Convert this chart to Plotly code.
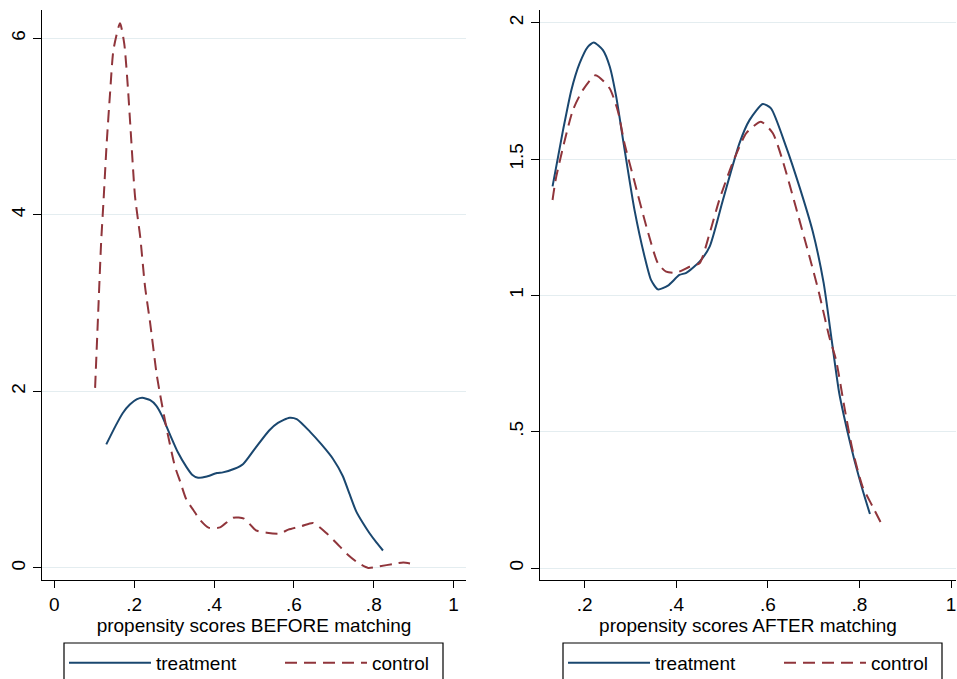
import plotly.graph_objects as go

# ---- data ----
treat_x = [0.130, 0.153, 0.171, 0.189, 0.207, 0.220, 0.240, 0.255, 0.269, 0.284, 0.298,
           0.309, 0.331, 0.345, 0.360, 0.382, 0.407, 0.422, 0.451, 0.473, 0.502, 0.538,
           0.560, 0.589, 0.607, 0.640, 0.669, 0.698, 0.722, 0.740, 0.756, 0.774, 0.789,
           0.807, 0.823]
treat_y = [1.40, 1.607, 1.753, 1.851, 1.912, 1.928, 1.900, 1.839, 1.729, 1.570, 1.423,
           1.313, 1.142, 1.057, 1.022, 1.036, 1.075, 1.083, 1.124, 1.179, 1.350, 1.558,
           1.643, 1.702, 1.686, 1.545, 1.399, 1.235, 1.045, 0.830, 0.641, 0.500, 0.396,
           0.286, 0.198]

before_ctrl_x = [0.102, 0.110, 0.117, 0.123, 0.131, 0.1395, 0.148, 0.1645, 0.175, 0.184,
                 0.191, 0.202, 0.215, 0.227, 0.240, 0.256, 0.265, 0.281, 0.302, 0.315,
                 0.331, 0.348, 0.365, 0.386, 0.415, 0.448, 0.475, 0.505, 0.532, 0.565,
                 0.586, 0.620, 0.648, 0.682, 0.707, 0.735, 0.760, 0.786, 0.815, 0.849,
                 0.874, 0.905]
before_ctrl_y = [2.04, 2.92, 3.68, 4.15, 4.81, 5.38, 5.87, 6.17, 5.94, 5.45,
                 4.96, 4.21, 3.75, 3.19, 2.77, 2.20, 1.96, 1.58, 1.15, 0.98,
                 0.77, 0.657, 0.544, 0.457, 0.46, 0.57, 0.56, 0.425, 0.40, 0.39,
                 0.435, 0.475, 0.51, 0.393, 0.28, 0.15, 0.06, 0.0, 0.02, 0.045,
                 0.062, 0.038]

after_ctrl_x = [0.130, 0.138, 0.1745, 0.196, 0.224, 0.2545, 0.273, 0.287, 0.308, 0.335,
                0.360, 0.378, 0.400, 0.429, 0.451, 0.473, 0.494, 0.523, 0.553, 0.585,
                0.611, 0.632, 0.661, 0.691, 0.712, 0.734, 0.749, 0.767, 0.785, 0.807,
                0.829, 0.853]
after_ctrl_y = [1.35, 1.435, 1.68, 1.753, 1.808, 1.760, 1.674, 1.558, 1.423, 1.252,
                1.118, 1.087, 1.083, 1.105, 1.118, 1.228, 1.350, 1.485, 1.595, 1.637,
                1.595, 1.497, 1.325, 1.142, 1.008, 0.849, 0.763, 0.592, 0.433, 0.298,
                0.225, 0.146]

x1_ticks = [0, 0.2, 0.4, 0.6, 0.8, 1]
x1_text = ["0", ".2", ".4", ".6", ".8", "1"]
y1_ticks = [0, 2, 4, 6]
y1_text = ["0", "2", "4", "6"]
x2_ticks = [0.2, 0.4, 0.6, 0.8, 1]
x2_text = [".2", ".4", ".6", ".8", "1"]
y2_ticks = [0, 0.5, 1, 1.5, 2]
y2_text = ["0", ".5", "1", "1.5", "2"]

NAVY = "#1a476f"
MAROON = "#90353b"
GRID = "#e4edf0"
FONT = "Liberation Sans, Arial, sans-serif"
DASH = "12px,7px"

fig = go.Figure()
fig.add_trace(go.Scatter(x=treat_x, y=treat_y, mode="lines", name="treatment",
                         line=dict(color=NAVY, width=2, shape="spline", smoothing=0.6),
                         xaxis="x", yaxis="y", legend="legend"))
fig.add_trace(go.Scatter(x=before_ctrl_x, y=before_ctrl_y, mode="lines", name="control",
                         line=dict(color=MAROON, width=2, dash=DASH, shape="spline", smoothing=0.6),
                         xaxis="x", yaxis="y", legend="legend"))
fig.add_trace(go.Scatter(x=treat_x, y=treat_y, mode="lines", name="treatment",
                         line=dict(color=NAVY, width=2, shape="spline", smoothing=0.6),
                         xaxis="x2", yaxis="y2", legend="legend2"))
fig.add_trace(go.Scatter(x=after_ctrl_x, y=after_ctrl_y, mode="lines", name="control",
                         line=dict(color=MAROON, width=2, dash=DASH, shape="spline", smoothing=0.6),
                         xaxis="x2", yaxis="y2", legend="legend2"))

W, H = 957, 679
ML, MR, MT, MB = 42, 1, 10, 99
PW = W - ML - MR
PH = H - MT - MB

def px_x(p):
    return (p - ML) / PW

def px_y(p):
    return (H - MB - p) / PH

common_x = dict(showline=True, linecolor="black", linewidth=1.3, ticks="outside",
                ticklen=7, tickcolor="black", tickwidth=1.3, showgrid=False,
                zeroline=False, automargin=False,
                tickfont=dict(family=FONT, size=19, color="black"),
                title_font=dict(family=FONT, size=19, color="black"),
                title_standoff=2)
common_y = dict(showline=True, linecolor="black", linewidth=1.3, ticks="outside",
                ticklen=8, tickcolor="black", tickwidth=1.3, showgrid=True,
                gridcolor=GRID, gridwidth=1.3, zeroline=False, automargin=False,
                tickangle=-90, tickfont=dict(family=FONT, size=19, color="black"))

legend_common = dict(orientation="h", bgcolor="rgba(0,0,0,0)", borderwidth=0,
                     font=dict(family=FONT, size=19, color="black"),
                     itemwidth=82, xanchor="left", yanchor="middle",
                     entrywidth=119, itemclick=False, itemdoubleclick=False)

# legend frames (Stata-style boxes, open at the bottom edge of the picture)
frame = dict(type="rect", xref="paper", yref="paper", line=dict(color="black", width=1.2),
             fillcolor="rgba(0,0,0,0)", layer="below")
shapes = [
    dict(x0=px_x(64), x1=px_x(443), y0=px_y(643), y1=px_y(700), **frame),
    dict(x0=px_x(563), x1=px_x(942), y0=px_y(643), y1=px_y(700), **frame),
]

fig.update_layout(
    width=W, height=H,
    margin=dict(l=ML, r=MR, t=MT, b=MB, autoexpand=False),
    plot_bgcolor="white", paper_bgcolor="white",
    xaxis=dict(domain=[0, px_x(466)], range=[-0.031, 1.031], tickvals=x1_ticks,
               ticktext=x1_text, title_text="propensity scores BEFORE matching",
               anchor="y", **common_x),
    yaxis=dict(domain=[0, 1], range=[-0.136, 6.32], tickvals=y1_ticks, ticktext=y1_text,
               anchor="x", **common_y),
    xaxis2=dict(domain=[px_x(540), 1], range=[0.1026, 1.0109], tickvals=x2_ticks,
                ticktext=x2_text, title_text="propensity scores AFTER matching",
                anchor="y2", **common_x),
    yaxis2=dict(domain=[0, 1], range=[-0.044, 2.047], tickvals=y2_ticks, ticktext=y2_text,
                anchor="x2", **common_y),
    legend=dict(x=px_x(64), y=px_y(663), **legend_common),
    legend2=dict(x=px_x(563), y=px_y(663), **legend_common),
    shapes=shapes,
    showlegend=True,
)

fig.write_html("out.html")
